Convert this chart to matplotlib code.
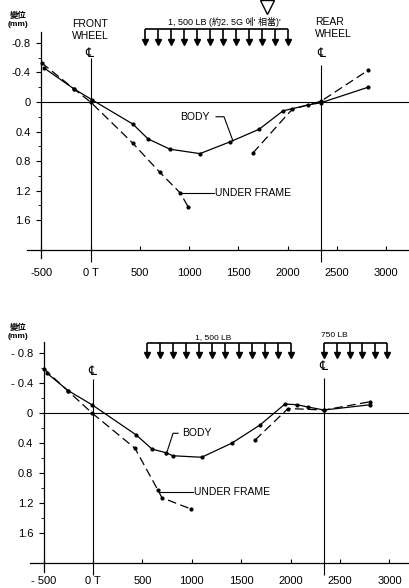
import numpy as np
import matplotlib
matplotlib.use('Agg')
import matplotlib.pyplot as plt

plt.rcParams['font.family'] = ['Liberation Sans', 'Noto Sans CJK KR', 'DejaVu Sans']

# 上段: 1,500 LB (約2.5G) の変位
top_body_x = [-470, -170, 15, 430, 583, 806, 1110, 1415, 1709, 1952, 2206, 2337, 2815]
top_body_y = [-0.46, -0.18, -0.03, 0.30, 0.50, 0.64, 0.70, 0.54, 0.37, 0.12, 0.04, 0.01, -0.20]
top_frame_x1 = [-495, -170, 0, 430, 700, 908, 990]
top_frame_y1 = [-0.53, -0.18, 0.0, 0.56, 0.95, 1.23, 1.42]
top_frame_x2 = [1648, 2044, 2337, 2815]
top_frame_y2 = [0.69, 0.10, -0.01, -0.43]

# 下段: 1,500 LB + 750 LB
bot_body_x = [-465, -253, -10, 435, 597, 739, 810, 1100, 1407, 1690, 1943, 2065, 2176, 2338, 2804]
bot_body_y = [-0.53, -0.30, -0.11, 0.29, 0.48, 0.53, 0.57, 0.59, 0.40, 0.16, -0.12, -0.11, -0.08, -0.04, -0.11]
bot_frame_x1 = [-496, -250, -10, 425, 658, 698, 992]
bot_frame_y1 = [-0.59, -0.29, 0.0, 0.47, 1.03, 1.13, 1.28]
bot_frame_x2 = [1640, 1974, 2338, 2804]
bot_frame_y2 = [0.36, -0.06, -0.04, -0.15]

x_ticks = [-500, 0, 500, 1000, 1500, 2000, 2500, 3000]
top_xlabels = ['-500', '0 T', '500', '1000', '1500', '2000', '2500', '3000']
bot_xlabels = ['- 500', '0 T', '500', '1000', '1500', '2000', '2500', '3000']
y_ticks = [-0.8, -0.4, 0, 0.4, 0.8, 1.2, 1.6]
y_minor = [-0.6, -0.2, 0.2, 0.6, 1.0, 1.4]
top_ylabels = ['-0.8', '-0.4', '0', '0.4', '0.8', '1.2', '1.6']
bot_ylabels = ['- 0.8', '- 0.4', '0', '0.4', '0.8', '1.2', '1.6']

front_x = 0
rear_x = 2340

# 荷重 (開始, 終了, 矢印数)
load_main = (550, 2000, 12)
load_rear = (2340, 2980, 6)

fig = plt.figure(figsize=(4.1, 5.88), dpi=100)
ax1 = fig.add_axes([0, 298 / 588, 1, 290 / 588])
ax2 = fig.add_axes([0, 0, 1, 298 / 588])
ax1.set_xlim(-918, 3240)
ax1.set_ylim(2.549, -1.383)
ax2.set_xlim(-941, 3208)
ax2.set_ylim(2.333, -1.64)


def setup_axes(ax, xlabels, ylabels, xpad, left_end):
    ax.patch.set_alpha(0)
    ax.spines['top'].set_visible(False)
    ax.spines['right'].set_visible(False)
    ax.spines['left'].set_position(('data', -500))
    ax.spines['left'].set_bounds(-0.95, 2.12)
    ax.spines['bottom'].set_position(('data', 2.0))
    ax.spines['bottom'].set_bounds(left_end, ax.get_xlim()[1])
    for s in ('left', 'bottom'):
        ax.spines[s].set_linewidth(0.9)
    ax.set_xticks(x_ticks, xlabels)
    ax.set_yticks(y_ticks, ylabels)
    ax.set_yticks(y_minor, minor=True)
    ax.tick_params(axis='x', direction='in', length=3, pad=xpad, labelsize=8)
    ax.tick_params(axis='y', direction='out', length=3.5, pad=4, labelsize=8)
    ax.tick_params(axis='y', which='minor', direction='out', length=2)
    ax.hlines(0, -500, ax.get_xlim()[1], color='k', lw=0.8)


def draw_load(ax, start, end, n, bar_y, tip_y):
    xs = np.linspace(start, end, n)
    ax.hlines(bar_y, start, end, color='k', lw=1.2)
    ax.vlines(xs, bar_y, tip_y, color='k', lw=1.2)
    ax.plot(xs, [tip_y] * n, 'v', color='k', ms=4)


def draw_lines(ax, bx, by, fx1, fy1, fx2, fy2):
    ax.plot(bx, by, color='k', lw=0.9, marker='o', ms=2)
    ax.plot(fx1, fy1, color='k', lw=0.9, ls=(0, (7, 3.5)), marker='o', ms=2)
    ax.plot(fx2, fy2, color='k', lw=0.9, ls=(0, (7, 3.5)), marker='o', ms=2)


# ---- 上段 ----
setup_axes(ax1, top_xlabels, top_ylabels, 13, -644)
draw_lines(ax1, top_body_x, top_body_y, top_frame_x1, top_frame_y1, top_frame_x2, top_frame_y2)
ax1.vlines(front_x, -0.6, 2.17, color='k', lw=0.8)
ax1.vlines(rear_x, -0.5, 2.17, color='k', lw=0.8)
ax1.text(front_x - 15, -0.66, '℄', ha='center', va='center', fontsize=9,
         family=['DejaVu Sans', 'Noto Sans CJK JP'])
ax1.text(rear_x, -0.66, '℄', ha='center', va='center', fontsize=9,
         family=['DejaVu Sans', 'Noto Sans CJK JP'])
ax1.text(-188, -0.98, 'FRONT\nWHEEL', ha='left', va='center', fontsize=7.5, linespacing=1.25)
ax1.text(2277, -1.0, 'REAR\nWHEEL', ha='left', va='center', fontsize=7.5, linespacing=1.25)
draw_load(ax1, load_main[0], load_main[1], load_main[2], -0.99, -0.82)
ax1.text(1354, -1.09, "1, 500 LB (約2. 5G 에' 相當)'", ha='center', va='center', fontsize=6.5)
ax1.plot([1790], [-1.29], marker='v', ms=10, mfc='white', mec='k', mew=1, clip_on=False)
ax1.text(-735, -1.11, '變位\n(mm)', ha='center', va='center', fontsize=6, linespacing=1.1,
         fontweight='bold')
ax1.text(908, 0.21, 'BODY', ha='left', va='center', fontsize=7.5)
ax1.plot([1273, 1354, 1445], [0.20, 0.20, 0.53], color='k', lw=0.8)
ax1.text(1263, 1.23, 'UNDER FRAME', ha='left', va='center', fontsize=7.5)
ax1.plot([908, 1253], [1.23, 1.23], color='k', lw=0.8)

# ---- 下段 ----
setup_axes(ax2, bot_xlabels, bot_ylabels, 9, -638)
draw_lines(ax2, bot_body_x, bot_body_y, bot_frame_x1, bot_frame_y1, bot_frame_x2, bot_frame_y2)
ax2.vlines(front_x, -0.45, 2.16, color='k', lw=0.8)
ax2.vlines(rear_x, -0.47, 2.16, color='k', lw=0.8)
ax2.text(front_x - 10, -0.55, '℄', ha='center', va='center', fontsize=9,
         family=['DejaVu Sans', 'Noto Sans CJK JP'])
ax2.text(rear_x - 10, -0.62, '℄', ha='center', va='center', fontsize=9,
         family=['DejaVu Sans', 'Noto Sans CJK JP'])
draw_load(ax2, load_main[0], load_main[1], load_main[2], -0.93, -0.78)
draw_load(ax2, load_rear[0], load_rear[1], load_rear[2], -0.93, -0.78)
ax2.text(1215, -1.01, '1, 500 LB', ha='center', va='center', fontsize=6)
ax2.text(2440, -1.03, '750 LB', ha='center', va='center', fontsize=6)
ax2.text(-759, -1.08, '變位\n(mm)', ha='center', va='center', fontsize=6, linespacing=1.1,
         fontweight='bold')
ax2.text(901, 0.27, 'BODY', ha='left', va='center', fontsize=7.5)
ax2.plot([861, 810, 739], [0.27, 0.27, 0.56], color='k', lw=0.8)
ax2.text(1022, 1.05, 'UNDER FRAME', ha='left', va='center', fontsize=7.5)
ax2.plot([678, 1012], [1.05, 1.05], color='k', lw=0.8)

fig.savefig('out.png', dpi=100)
